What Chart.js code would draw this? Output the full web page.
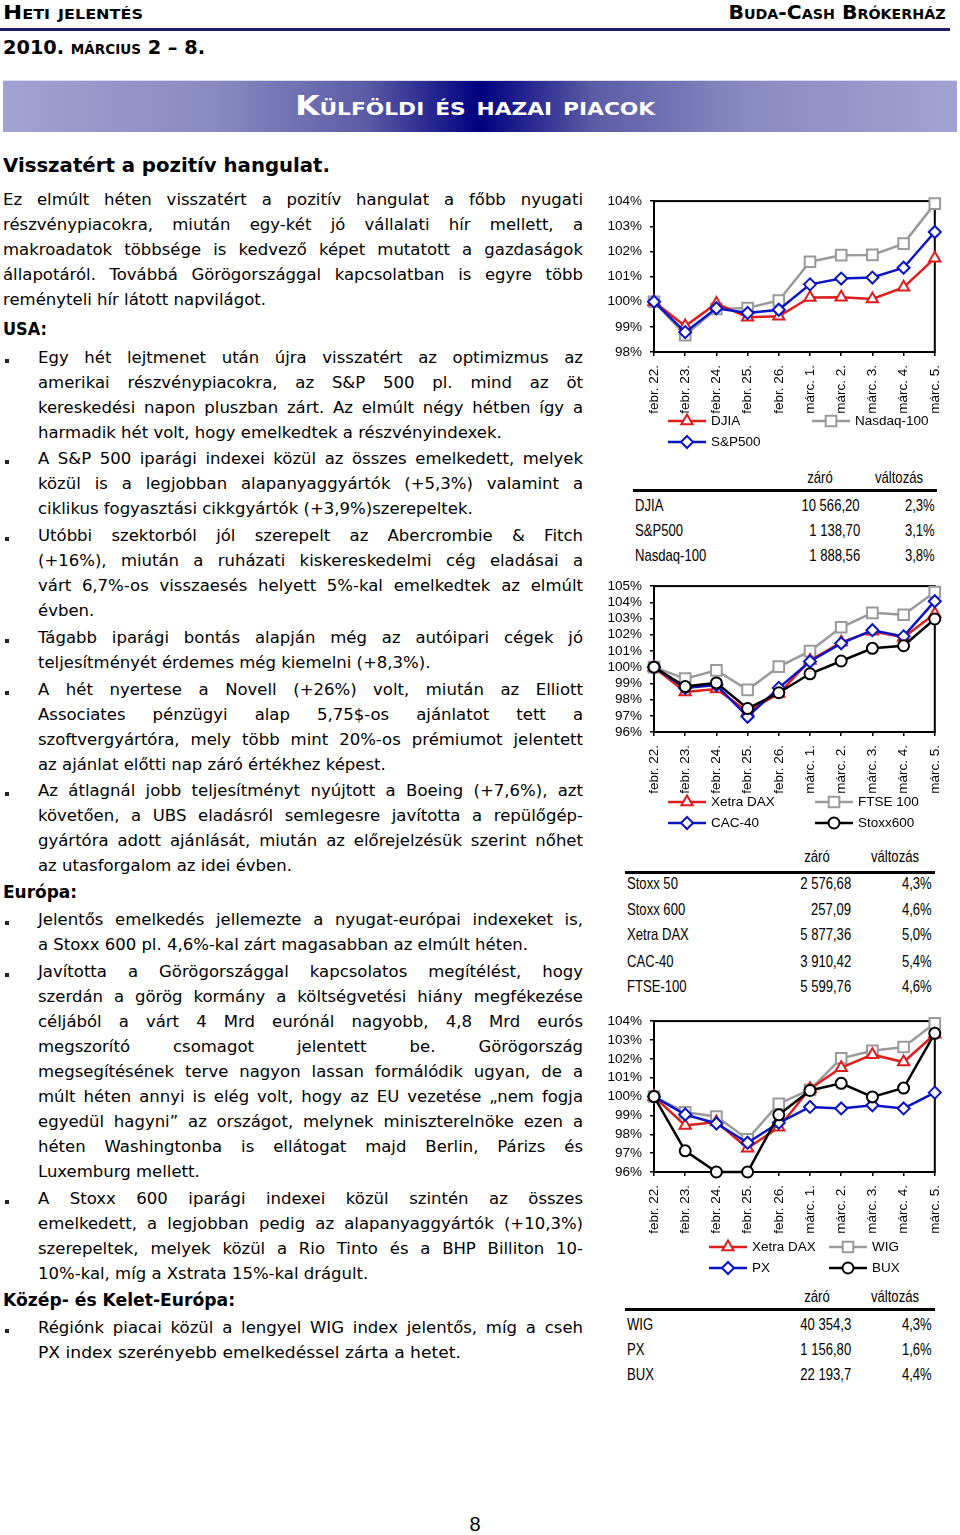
<!DOCTYPE html>
<html lang="hu">
<head>
<meta charset="utf-8">
<script src="https://cdn.jsdelivr.net/npm/chart.js@4.4.1/dist/chart.umd.min.js"></script>
<style>
  html, body { margin: 0; padding: 0; background: #fff; }
  body { width: 960px; height: 1535px; position: relative; overflow: hidden;
         font-family: 'DejaVu Sans', Verdana, sans-serif; color: #000; }
  .abs { position: absolute; }
  .fit { display: inline-block; white-space: nowrap; }
  .hd { font-weight: bold; font-variant: small-caps; font-size: 20px; line-height: 20px; }
  .rule { left: 0; top: 28px; width: 950px; height: 3px; background: #1c1c6c; }
  .banner { left: 3px; top: 80px; width: 954px; height: 51px;
            background: linear-gradient(to right, #a2a2d2 0%, #8a8ac2 22%, #5c5ca6 38%, #000080 50%, #5c5ca6 62%, #8a8ac2 78%, #a2a2d2 100%);
            border-top: 1px solid #dcdcec; }
  .btitle { left: 0; top: 93px; width: 950px; text-align: center; color: #fff;
            font-weight: bold; font-variant: small-caps; font-size: 26px; line-height: 26px; }
  .blk { position: absolute; font-size: 16.5px; }
  .ln { height: 25px; line-height: 25px; white-space: normal; overflow: visible; }
  .j { text-align: justify; text-align-last: justify; }
  .bul::before { content: ''; position: absolute; left: -33px; top: 14px; width: 4px; height: 4px; background: #222; }
  .sec { position: absolute; left: 3px; font-weight: bold; font-size: 17px; line-height: 25px; }
  .tc { position: absolute; height: 20px; line-height: 20px; white-space: nowrap;
        font-family: 'Liberation Sans', Arial, sans-serif; font-size: 17px; }
  .tline { position: absolute; height: 3px; background: #000; }
  canvas { position: absolute; }
  .pg { left: 465px; top: 1512px; width: 20px; text-align: center;
        font-family: 'Liberation Sans', Arial, sans-serif; font-size: 20px; line-height: 24px; }
</style>
</head>
<body>

<div class="abs" style="left:3px;top:2px"><span class="fit hd" data-w="140">Heti jelentés</span></div>
<div class="abs" style="right:15px;top:2px"><span class="fit hd" data-w="217" data-o="right">Buda-Cash Brókerház</span></div>
<div class="abs rule"></div>
<div class="abs" style="left:3px;top:37px"><span class="fit hd" data-w="202">2010. március 2 – 8.</span></div>

<div class="abs banner"></div>
<div class="abs btitle"><span class="fit" data-w="360" data-o="center">Külföldi és hazai piacok</span></div>

<div class="abs" style="left:3px;top:152px;font-weight:bold;font-size:20px;line-height:26px"><span class="fit" data-w="327">Visszatért a pozitív hangulat.</span></div>

<div class="blk" style="top:186.5px;left:3px;width:580px">
  <div class="ln j">Ez elmúlt héten visszatért a pozitív hangulat a főbb nyugati</div>
  <div class="ln j">részvénypiacokra, miután egy-két jó vállalati hír mellett, a</div>
  <div class="ln j">makroadatok többsége is kedvező képet mutatott a gazdaságok</div>
  <div class="ln j">állapotáról. Továbbá Görögországgal kapcsolatban is egyre több</div>
  <div class="ln">reményteli hír látott napvilágot.</div>
</div>

<div class="sec" style="top:316.5px"><span class="fit" data-w="44">USA:</span></div>

<div class="blk bul" style="top:344.5px;left:38px;width:545px">
  <div class="ln j">Egy hét lejtmenet után újra visszatért az optimizmus az</div>
  <div class="ln j">amerikai részvénypiacokra, az S&amp;P 500 pl. mind az öt</div>
  <div class="ln j">kereskedési napon pluszban zárt. Az elmúlt négy hétben így a</div>
  <div class="ln">harmadik hét volt, hogy emelkedtek a részvényindexek.</div>
</div>
<div class="blk bul" style="top:445.5px;left:38px;width:545px">
  <div class="ln j">A S&amp;P 500 iparági indexei közül az összes emelkedett, melyek</div>
  <div class="ln j">közül is a legjobban alapanyaggyártók (+5,3%) valamint a</div>
  <div class="ln">ciklikus fogyasztási cikkgyártók (+3,9%)szerepeltek.</div>
</div>
<div class="blk bul" style="top:522.5px;left:38px;width:545px">
  <div class="ln j">Utóbbi szektorból jól szerepelt az Abercrombie &amp; Fitch</div>
  <div class="ln j">(+16%), miután a ruházati kiskereskedelmi cég eladásai a</div>
  <div class="ln j">várt 6,7%-os visszaesés helyett 5%-kal emelkedtek az elmúlt</div>
  <div class="ln">évben.</div>
</div>
<div class="blk bul" style="top:624.5px;left:38px;width:545px">
  <div class="ln j">Tágabb iparági bontás alapján még az autóipari cégek jó</div>
  <div class="ln">teljesítményét érdemes még kiemelni (+8,3%).</div>
</div>
<div class="blk bul" style="top:676.5px;left:38px;width:545px">
  <div class="ln j">A hét nyertese a Novell (+26%) volt, miután az Elliott</div>
  <div class="ln j">Associates pénzügyi alap 5,75$-os ajánlatot tett a</div>
  <div class="ln j">szoftvergyártóra, mely több mint 20%-os prémiumot jelentett</div>
  <div class="ln">az ajánlat előtti nap záró értékhez képest.</div>
</div>
<div class="blk bul" style="top:777.5px;left:38px;width:545px">
  <div class="ln j">Az átlagnál jobb teljesítményt nyújtott a Boeing (+7,6%), azt</div>
  <div class="ln j">követően, a UBS eladásról semlegesre javította a repülőgép-</div>
  <div class="ln j">gyártóra adott ajánlását, miután az előrejelzésük szerint nőhet</div>
  <div class="ln">az utasforgalom az idei évben.</div>
</div>

<div class="sec" style="top:879.5px"><span class="fit" data-w="74">Európa:</span></div>

<div class="blk bul" style="top:906.5px;left:38px;width:545px">
  <div class="ln j">Jelentős emelkedés jellemezte a nyugat-európai indexeket is,</div>
  <div class="ln">a Stoxx 600 pl. 4,6%-kal zárt magasabban az elmúlt héten.</div>
</div>
<div class="blk bul" style="top:958.5px;left:38px;width:545px">
  <div class="ln j">Javította a Görögországgal kapcsolatos megítélést, hogy</div>
  <div class="ln j">szerdán a görög kormány a költségvetési hiány megfékezése</div>
  <div class="ln j">céljából a várt 4 Mrd eurónál nagyobb, 4,8 Mrd eurós</div>
  <div class="ln j">megszorító csomagot jelentett be. Görögország</div>
  <div class="ln j">megsegítésének terve nagyon lassan formálódik ugyan, de a</div>
  <div class="ln j">múlt héten annyi is elég volt, hogy az EU vezetése „nem fogja</div>
  <div class="ln j">egyedül hagyni” az országot, melynek miniszterelnöke ezen a</div>
  <div class="ln j">héten Washingtonba is ellátogat majd Berlin, Párizs és</div>
  <div class="ln">Luxemburg mellett.</div>
</div>
<div class="blk bul" style="top:1185.5px;left:38px;width:545px">
  <div class="ln j">A Stoxx 600 iparági indexei közül szintén az összes</div>
  <div class="ln j">emelkedett, a legjobban pedig az alapanyaggyártók (+10,3%)</div>
  <div class="ln j">szerepeltek, melyek közül a Rio Tinto és a BHP Billiton 10-</div>
  <div class="ln">10%-kal, míg a Xstrata 15%-kal drágult.</div>
</div>

<div class="sec" style="top:1287.5px"><span class="fit" data-w="232">Közép- és Kelet-Európa:</span></div>

<div class="blk bul" style="top:1314.5px;left:38px;width:545px">
  <div class="ln j">Régiónk piacai közül a lengyel WIG index jelentős, míg a cseh</div>
  <div class="ln"><span class="fit" data-w="423">PX index szerényebb emelkedéssel zárta a hetet.</span></div>
</div>

<canvas id="usChart" width="360" height="270" style="left:600px;top:185px"></canvas>
<canvas id="euChart" width="360" height="265" style="left:600px;top:570px"></canvas>
<canvas id="ceChart" width="360" height="275" style="left:600px;top:1005px"></canvas>

<div class="abs pg">8</div>

<script>
// ---------- DATA ----------
const days = ['febr. 22.', 'febr. 23.', 'febr. 24.', 'febr. 25.', 'febr. 26.',
              'márc. 1.', 'márc. 2.', 'márc. 3.', 'márc. 4.', 'márc. 5.'];

// index levels, febr. 22. = 100%
const djia      = [100, 99.03, 99.93, 99.38, 99.42, 100.17, 100.18, 100.11, 100.57, 101.73];
const sp500     = [100, 98.79, 99.74, 99.55, 99.68, 100.69, 100.92, 100.96, 101.35, 102.77];
const nasdaq100 = [100, 98.67, 99.71, 99.75, 100.05, 101.59, 101.85, 101.86, 102.31, 103.90];

const dax       = [100, 98.47, 98.65, 97.26, 98.37, 100.41, 101.53, 102.22, 101.83, 103.30];
const ftse100   = [100, 99.29, 99.80, 98.60, 100.03, 100.99, 102.46, 103.35, 103.23, 104.63];
const cac40     = [100, 98.72, 98.90, 96.94, 98.72, 100.35, 101.47, 102.28, 101.90, 104.07];
const stoxx600  = [100, 98.80, 99.03, 97.45, 98.42, 99.59, 100.38, 101.16, 101.32, 102.97];

const wig       = [100, 99.17, 98.94, 97.74, 99.62, 100.36, 102.03, 102.43, 102.63, 103.88];
const px        = [100, 99.05, 98.57, 97.55, 98.61, 99.45, 99.37, 99.54, 99.37, 100.21];
const bux       = [100, 97.12, 96.00, 96.00, 99.03, 100.32, 100.70, 99.98, 100.45, 103.35];

// tables
const tableHead = ['záró', 'változás'];
const usNames  = ['DJIA', 'S&P500', 'Nasdaq-100'];
const usClose  = ['10 566,20', '1 138,70', '1 888,56'];
const usChange = ['2,3%', '3,1%', '3,8%'];
const euNames  = ['Stoxx 50', 'Stoxx 600', 'Xetra DAX', 'CAC-40', 'FTSE-100'];
const euClose  = ['2 576,68', '257,09', '5 877,36', '3 910,42', '5 599,76'];
const euChange = ['4,3%', '4,6%', '5,0%', '5,4%', '4,6%'];
const ceNames  = ['WIG', 'PX', 'BUX'];
const ceClose  = ['40 354,3', '1 156,80', '22 193,7'];
const ceChange = ['4,3%', '1,6%', '4,4%'];

// ---------- TEXT FITTING ----------
document.querySelectorAll('.j').forEach(el => {
	let ls = 0;
	while (el.offsetHeight > 30 && ls > -2) {
		ls -= 0.1;
		el.style.letterSpacing = ls + 'px';
	}
});
document.querySelectorAll('[data-w]').forEach(el => {
	const w = el.getBoundingClientRect().width;
	el.style.transformOrigin = (el.dataset.o || 'left') + ' center';
	el.style.transform = `scaleX(${el.dataset.w / w})`;
});

// ---------- TABLES ----------
function addCell(txt, x, y, align) {
	const d = document.createElement('div');
	d.className = 'tc';
	d.textContent = txt;
	d.style.top = (y - 10) + 'px';
	if (align === 'left') {
		d.style.left = x + 'px';
		d.style.transformOrigin = 'left center';
	} else if (align === 'right') {
		d.style.right = (960 - x) + 'px';
		d.style.transformOrigin = 'right center';
	} else {
		d.style.left = (x - 100) + 'px';
		d.style.width = '200px';
		d.style.textAlign = 'center';
	}
	d.style.transform = 'scaleX(0.77)';
	document.body.appendChild(d);
}

function buildTable(names, close, change, o) {
	addCell(tableHead[0], o.hClose, o.head, 'center');
	addCell(tableHead[1], o.hChg, o.head, 'center');
	const ln = document.createElement('div');
	ln.className = 'tline';
	ln.style.left = o.lx + 'px';
	ln.style.width = o.lw + 'px';
	ln.style.top = o.ly + 'px';
	document.body.appendChild(ln);
	names.forEach((n, i) => {
		const y = o.rows[i];
		addCell(n, o.nameX, y, 'left');
		addCell(close[i], o.closeR, y, 'right');
		addCell(change[i], o.chgR, y, 'right');
	});
}

buildTable(usNames, usClose, usChange, { head: 478, lx: 633, lw: 304, ly: 489, rows: [506, 531, 556], nameX: 635, closeR: 860, chgR: 935, hClose: 820, hChg: 899 });
buildTable(euNames, euClose, euChange, { head: 857, lx: 625, lw: 310, ly: 871, rows: [884, 910, 935, 962, 987], nameX: 627, closeR: 851, chgR: 932, hClose: 817, hChg: 895 });
buildTable(ceNames, ceClose, ceChange, { head: 1297, lx: 625, lw: 310, ly: 1308, rows: [1325, 1350, 1375], nameX: 627, closeR: 851, chgR: 932, hClose: 817, hChg: 895 });

// ---------- CHARTS ----------
const FONT = "'Liberation Sans', Arial, sans-serif";
const RED = '#dc1e1e';
const GRAY = '#9a9a9a';
const BLUE = '#0b14c4';
const BLACK = '#000000';

function series(label, data, color, pointStyle, radius, order) {
	return {
		label,
		data,
		borderColor: color,
		backgroundColor: '#fff',
		borderWidth: 2.5,
		pointStyle,
		pointRadius: radius,
		pointBorderWidth: 2,
		pointBackgroundColor: '#fff',
		pointBorderColor: color,
		tension: 0,
		clip: false,
		order,
	};
}

// black frame round the plot area
const framePlugin = {
	id: 'frame',
	beforeDatasetsDraw(chart) {
		const { ctx, chartArea: a } = chart;
		ctx.save();
		ctx.strokeStyle = '#000';
		ctx.lineWidth = 2;
		ctx.strokeRect(a.left, a.top, a.right - a.left, a.bottom - a.top);
		ctx.restore();
	},
};

// Excel style legend: line with marker in the middle
const lineLegend = {
	id: 'lineLegend',
	afterDraw(chart, args, opts) {
		const { ctx, chartArea } = chart;
		ctx.save();
		ctx.font = '13.5px ' + FONT;
		ctx.textBaseline = 'middle';
		opts.items.forEach(([idx, col, row]) => {
			const ds = chart.data.datasets[idx];
			const x0 = opts.cols[col];
			const x1 = x0 + 38;
			const y = chartArea.bottom + opts.rows[row];
			ctx.strokeStyle = ds.borderColor;
			ctx.lineWidth = ds.borderWidth;
			ctx.beginPath();
			ctx.moveTo(x0, y);
			ctx.lineTo(x1, y);
			ctx.stroke();
			ctx.fillStyle = '#fff';
			ctx.lineWidth = ds.pointBorderWidth;
			Chart.helpers.drawPoint(ctx, { pointStyle: ds.pointStyle, radius: ds.pointRadius, rotation: 0, borderWidth: ds.pointBorderWidth }, (x0 + x1) / 2, y);
			ctx.fillStyle = '#000';
			ctx.fillText(ds.label, x1 + 5, y);
		});
		ctx.restore();
	},
};

function makeChart(id, datasets, yMin, yMax, pad, legend) {
	return new Chart(document.getElementById(id), {
		type: 'line',
		data: { labels: days, datasets },
		options: {
			responsive: false,
			animation: false,
			layout: { padding: pad },
			plugins: {
				legend: { display: false },
				tooltip: { enabled: false },
				lineLegend: legend,
			},
			scales: {
				x: {
					offset: false,
					afterFit(s) { s.height = 62; },
					grid: { drawOnChartArea: false, drawTicks: true, tickLength: 4, color: '#000', lineWidth: 1.5 },
					border: { display: true, color: '#000', width: 2 },
					ticks: {
						autoSkip: false,
						maxRotation: 90,
						minRotation: 90,
						padding: 9,
						color: '#000',
						font: { family: FONT, size: 13.5 },
					},
				},
				y: {
					min: yMin,
					max: yMax,
					afterFit(s) { s.width = 54; },
					grid: { drawOnChartArea: false, drawTicks: true, tickLength: 4, color: '#000', lineWidth: 1.5 },
					border: { display: true, color: '#000', width: 2 },
					ticks: {
						stepSize: 1,
						autoSkip: false,
						padding: 8,
						color: '#000',
						font: { family: FONT, size: 13.5 },
						callback: v => v + '%',
					},
				},
			},
		},
		plugins: [framePlugin, lineLegend],
	});
}

makeChart('usChart', [
	series('DJIA', djia, RED, 'triangle', 6.5, 2),
	series('Nasdaq-100', nasdaq100, GRAY, 'rect', 7.5, 3),
	series('S&P500', sp500, BLUE, 'rectRot', 6, 1),
], 98, 104, { top: 16, right: 16, bottom: 41, left: 0 },
{ cols: [68, 212], rows: [69, 90], items: [[0, 0, 0], [1, 1, 0], [2, 0, 1]] });

makeChart('euChart', [
	series('Xetra DAX', dax, RED, 'triangle', 6.5, 3),
	series('FTSE 100', ftse100, GRAY, 'rect', 7.5, 4),
	series('CAC-40', cac40, BLUE, 'rectRot', 6, 2),
	series('Stoxx600', stoxx600, BLACK, 'circle', 5.5, 1),
], 96, 105, { top: 11, right: 20, bottom: 41, left: 0 },
{ cols: [68, 215], rows: [70, 91], items: [[0, 0, 0], [1, 1, 0], [2, 0, 1], [3, 1, 1]] });

makeChart('ceChart', [
	series('Xetra DAX', dax, RED, 'triangle', 6.5, 3),
	series('WIG', wig, GRAY, 'rect', 7.5, 4),
	series('PX', px, BLUE, 'rectRot', 6, 2),
	series('BUX', bux, BLACK, 'circle', 5.5, 1),
], 96, 104, { top: 12, right: 17, bottom: 46, left: 0 },
{ cols: [109, 229], rows: [75, 96], items: [[0, 0, 0], [1, 1, 0], [2, 0, 1], [3, 1, 1]] });
</script>
</body>
</html>
